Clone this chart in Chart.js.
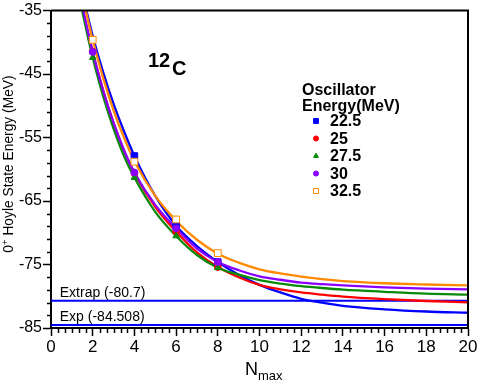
<!DOCTYPE html>
<html><head><meta charset="utf-8">
<script src="https://cdn.jsdelivr.net/npm/chart.js@4/dist/chart.umd.min.js"></script>
<style>html,body{margin:0;padding:0;background:#fff}#wrap{width:490px;height:381px}</style>
</head><body><div id="wrap"><canvas id="c" width="490" height="381"></canvas></div>
<script>
// ---- data ----
const nmax = [2, 4, 6, 8];
const pts225 = [null, -57.9, -68.9, -74.6];
const pts25  = [-41.5, -60.6, -69.8, -75.4];
const pts275 = [-42.4, -61.3, -70.5, -75.5];
const pts30  = [-41.5, -60.5, -69.3, -74.6];
const pts325 = [-39.6, -58.8, -67.9, -73.2];

const fitN   = [1.5, 1.75, 2, 2.5, 3, 3.5, 4, 5, 6, 7, 8, 9, 10, 11, 12, 13, 14, 16, 18, 20];
const fit225 = [-32.4, -35.7, -39.0, -44.7, -49.7, -54.0, -57.9, -64.2, -68.9, -72.1, -74.6, -76.6, -78.2, -79.4, -80.4, -81.0, -81.5, -82.05, -82.4, -82.6];
const fit25  = [-34.4, -38.1, -41.5, -47.55, -52.7, -57.0, -60.6, -65.9, -69.8, -73.1, -75.4, -77.0, -78.2, -78.9, -79.4, -79.75, -80.05, -80.45, -80.75, -80.95];
const fit275 = [-35.1, -38.9, -42.4, -48.5, -53.6, -57.9, -61.3, -66.7, -70.5, -73.5, -75.5, -76.6, -77.45, -78.0, -78.4, -78.7, -78.95, -79.3, -79.6, -79.75];
const fit30  = [-34.2, -38.0, -41.5, -47.6, -52.7, -57.0, -60.5, -65.6, -69.3, -72.5, -74.6, -75.9, -76.85, -77.4, -77.85, -78.1, -78.3, -78.6, -78.8, -78.9];
const fit325 = [-32.5, -36.2, -39.6, -45.6, -50.7, -55.0, -58.7, -64.2, -68.1, -71.1, -73.3, -74.7, -75.75, -76.4, -76.9, -77.3, -77.6, -77.95, -78.15, -78.3];

const seriesLabels = ['22.5', '25', '27.5', '30', '32.5'];
const extrapValue = -80.7;
const expValue = -84.508;
const refLineX = [0, 20];
const xTickValues = [0, 2, 4, 6, 8, 10, 12, 14, 16, 18, 20];
const yTickValues = [-85, -75, -65, -55, -45, -35];

// ---- styles ----
const FONT = '"Liberation Sans", Arial, Helvetica, sans-serif';
const colors = ['#0000ff', '#ff0000', '#0a8a0a', '#8a00ff', '#ff8a00'];
const pStyles = ['rect', 'circle', 'triangle', 'circle', 'rect'];
const pRadius = [4.6, 3.4, 3.8, 3.4, 4.8];
const pFill = ['#0000ff', '#ff0000', '#0a8a0a', '#8a00ff', '#ffffff'];
const pBorder = ['#0000ff', '#ff0000', '#0a8a0a', '#8a00ff', '#ff8a00'];

const ptsAll = [pts225, pts25, pts275, pts30, pts325];
const fitAll = [fit225, fit25, fit275, fit30, fit325];

const toXY = (xs, ys) => xs.map((x, i) => ({x: x, y: ys[i]})).filter(p => p.y !== null);

const datasets = [];
[extrapValue, expValue].forEach(v => {
  datasets.push({type: 'line', data: refLineX.map(x => ({x: x, y: v})), borderColor: '#0000ff',
    borderWidth: 2, pointRadius: 0, fill: false, order: 30});
});
fitAll.forEach((f, k) => {
  datasets.push({type: 'line', data: toXY(fitN, f), borderColor: colors[k], borderWidth: 2.3,
    pointRadius: 0, fill: false, cubicInterpolationMode: 'monotone', order: 25 - k});
});
ptsAll.forEach((p, k) => {
  datasets.push({type: 'scatter', label: seriesLabels[k], data: toXY(nmax, p), showLine: false,
    pointStyle: pStyles[k], pointRadius: pRadius[k], pointBackgroundColor: pFill[k],
    pointBorderColor: pBorder[k], pointBorderWidth: 1, order: 10 - k});
});

const deco = {
  id: 'deco',
  afterDraw(chart) {
    const ctx = chart.ctx, a = chart.chartArea;
    const xs = chart.scales.x, ys = chart.scales.y;
    ctx.save();
    ctx.strokeStyle = '#000'; ctx.lineWidth = 2;
    ctx.beginPath();
    ctx.moveTo(a.left, a.top); ctx.lineTo(a.right, a.top); ctx.lineTo(a.right, a.bottom);
    ctx.stroke();
    ctx.lineWidth = 1.5;
    ctx.beginPath();
    for (let v = -35; v >= -85; v -= 2) {
      if (Math.abs(((v + 35) % 10)) < 1e-6) continue;
      const y = Math.round(ys.getPixelForValue(v)) + 0.5;
      ctx.moveTo(a.left - 4, y); ctx.lineTo(a.left, y);
    }
    for (let i = 0; i <= 60; i++) {
      if (i % 6 === 0) continue;
      const x = Math.round(xs.getPixelForValue(i / 3)) + 0.5;
      ctx.moveTo(x, a.bottom); ctx.lineTo(x, a.bottom + 5);
    }
    ctx.stroke();
    ctx.fillStyle = '#000';
    ctx.font = '14px ' + FONT; ctx.textAlign = 'left'; ctx.textBaseline = 'alphabetic';
    ctx.fillText('Extrap (' + extrapValue + ')', xs.getPixelForValue(0.42), ys.getPixelForValue(extrapValue) - 4);
    ctx.fillText('Exp (' + expValue + ')', xs.getPixelForValue(0.42), ys.getPixelForValue(expValue) - 4);
    ctx.font = 'bold 20px ' + FONT;
    ctx.fillText('12', 148, 67);
    ctx.fillText('C', 172, 75);
    ctx.font = 'bold 16px ' + FONT;
    ctx.fillText('Oscillator', 302, 95);
    ctx.fillText('Energy(MeV)', 302, 111);
    ctx.textBaseline = 'middle';
    seriesLabels.forEach((lab, k) => {
      const cy = 121 + k * 17.5;
      ctx.fillStyle = pFill[k]; ctx.strokeStyle = pBorder[k]; ctx.lineWidth = 1;
      Chart.helpers.drawPoint(ctx, {pointStyle: pStyles[k], radius: pRadius[k] * 0.75, borderWidth: 1, rotation: 0}, 316, cy);
      ctx.fillStyle = '#000';
      ctx.fillText(lab, 330, cy + 1);
    });
    ctx.textBaseline = 'alphabetic';
    ctx.font = '18px ' + FONT;
    ctx.fillText('N', 245, 375);
    ctx.font = '13px ' + FONT;
    ctx.fillText('max', 258, 380);
    // y title
    ctx.translate(12.5, 164);
    ctx.rotate(-Math.PI / 2);
    const F1 = '13.8px ' + FONT, F2 = '9.5px ' + FONT;
    ctx.font = F1;
    const w0 = ctx.measureText('0').width;
    ctx.font = F2;
    const wp = ctx.measureText('+').width;
    ctx.font = F1;
    const rest = ' Hoyle State Energy (MeV)';
    const wr = ctx.measureText(rest).width;
    let x0 = -(w0 + wp + wr) / 2;
    ctx.fillText('0', x0, 0);
    ctx.font = F2;
    ctx.fillText('+', x0 + w0, -5);
    ctx.font = F1;
    ctx.fillText(rest, x0 + w0 + wp, 0);
    ctx.restore();
  }
};

new Chart(document.getElementById('c'), {
  type: 'scatter',
  data: {datasets: datasets},
  options: {
    responsive: false, animation: false, devicePixelRatio: 1,
    layout: {padding: {left: 0, right: 22, top: 7, bottom: 0}},
    plugins: {legend: {display: false}, tooltip: {enabled: false}},
    scales: {
      x: {type: 'linear', min: 0, max: 20,
        afterBuildTicks: s => { s.ticks = xTickValues.map(v => ({value: v})); },
        afterFit: s => { s.height = 53; },
        grid: {drawOnChartArea: false, drawTicks: true, tickLength: 8, color: '#000', tickWidth: 1.5},
        border: {display: true, color: '#000', width: 2},
        ticks: {color: '#000', font: {family: FONT, size: 17}, padding: 1, maxRotation: 0}},
      y: {type: 'linear', min: -85, max: -35,
        afterBuildTicks: s => { s.ticks = yTickValues.map(v => ({value: v})); },
        afterFit: s => { s.width = 51; },
        grid: {drawOnChartArea: false, drawTicks: true, tickLength: 8, color: '#000', tickWidth: 1.5},
        border: {display: true, color: '#000', width: 2},
        ticks: {color: '#000', font: {family: FONT, size: 16}, padding: 1}}
    }
  },
  plugins: [deco]
});
</script></body></html>
